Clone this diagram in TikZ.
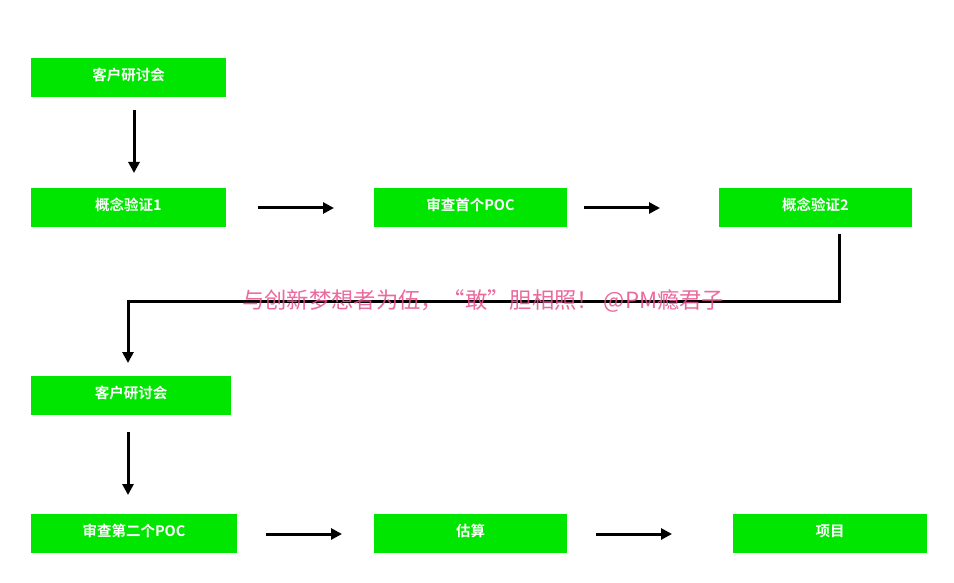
\documentclass[tikz,border=0pt]{standalone}
\usepackage{fontspec}
\newfontfamily\cjk{Noto Sans CJK SC}
\newfontfamily\cjkb{Noto Sans CJK SC Bold}
\usetikzlibrary{arrows.meta}
\definecolor{boxgreen}{RGB}{0,230,0}
\definecolor{wmpink}{RGB}{232,80,140}
\tikzset{
  box/.style={fill=boxgreen, draw=none, minimum height=39pt, inner sep=0pt, text height=11pt, text depth=5.6pt, text=white, font=\cjkb\fontsize{14.5}{14.5}\selectfont},
  conn/.style={line width=3pt, -{Triangle[length=11pt,width=11pt]}},
}
\begin{document}
\begin{tikzpicture}[x=1pt,y=-1pt]
\useasboundingbox (0,0) rectangle (954,583);
\node[box, minimum width=195pt] (b1) at (128.5,77.5) {客户研讨会};
\node[box, minimum width=195pt] (b2) at (128.5,207.5) {概念验证1};
\node[box, minimum width=193pt] (b3) at (470.5,207.5) {审查首个POC};
\node[box, minimum width=193pt] (b4) at (815.5,207.5) {概念验证2};
\node[box, minimum width=200pt] (b5) at (131,395.5) {客户研讨会};
\node[box, minimum width=206pt] (b6) at (134,533.5) {审查第二个POC};
\node[box, minimum width=193pt] (b7) at (470.5,533.5) {估算};
\node[box, minimum width=194pt] (b8) at (830,533.5) {项目};

\coordinate (a1s) at (134,110); \coordinate (a1e) at (134,173);
\coordinate (a2s) at (258,208); \coordinate (a2e) at (334,208);
\coordinate (a3s) at (584,208); \coordinate (a3e) at (660,208);
\coordinate (a4s) at (839,234); \coordinate (a4m1) at (839,301);
\coordinate (a4m2) at (128,301); \coordinate (a4e) at (128,363);
\coordinate (a5s) at (128,432); \coordinate (a5e) at (128,495);
\coordinate (a6s) at (266,534); \coordinate (a6e) at (342,534);
\coordinate (a7s) at (596,534); \coordinate (a7e) at (672,534);

\draw[conn] (a1s) -- (a1e);
\draw[conn] (a2s) -- (a2e);
\draw[conn] (a3s) -- (a3e);
\draw[conn] (a4s) -- (a4m1) -- (a4m2) -- (a4e);
\draw[conn] (a5s) -- (a5e);
\draw[conn] (a6s) -- (a6e);
\draw[conn] (a7s) -- (a7e);

\node[text=wmpink, opacity=0.85, inner sep=0pt, anchor=west, font=\cjk\fontsize{22.3}{22.3}\selectfont] (wm) at (242,301) {与创新梦想者为伍，“敢”胆相照！ @PM瘾君子};
\end{tikzpicture}
\end{document}
